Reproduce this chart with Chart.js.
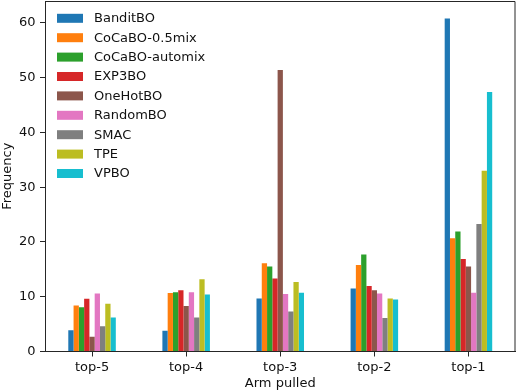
<!DOCTYPE html>
<html>
<head>
<meta charset="utf-8">
<script src="https://cdn.jsdelivr.net/npm/chart.js@4.4.0/dist/chart.umd.min.js"></script>
<style>
  body { margin: 0; background: #fff; }
</style>
</head>
<body>
<canvas id="chart" width="518" height="392"></canvas>
<script>
var arms = ["top-5", "top-4", "top-3", "top-2", "top-1"];
var yTicks = [0, 10, 20, 30, 40, 50, 60];

var banditBO   = [3.9, 3.8, 9.7, 11.5, 60.8];
var cocaboMix  = [8.4, 10.7, 16.1, 15.8, 20.7];
var cocaboAuto = [8.1, 10.8, 15.5, 17.7, 21.9];
var exp3BO     = [9.65, 11.2, 13.35, 11.95, 16.9];
var oneHotBO   = [2.7, 8.3, 51.4, 11.2, 15.5];
var randomBO   = [10.6, 10.8, 10.5, 10.6, 10.75];
var smac       = [4.6, 6.2, 7.3, 6.1, 23.3];
var tpe        = [8.7, 13.2, 12.7, 9.7, 33.0];
var vpbo       = [6.2, 10.4, 10.75, 9.5, 47.4];

var FONT = "'DejaVu Sans', sans-serif";
var AXIS = '#262626';

// matplotlib style legend inside the axes, top left
var innerLegend = {
    id: 'innerLegend',
    afterDraw: function (chart) {
        var c = chart.ctx;
        c.save();
        c.font = '13px ' + FONT;
        c.textBaseline = 'middle';
        c.textAlign = 'left';
        chart.data.datasets.forEach(function (ds, i) {
            var y = 18.3 + i * 19.4;
            c.fillStyle = ds.backgroundColor;
            c.fillRect(57, y - 4.5, 26, 9);
            c.fillStyle = '#111';
            c.fillText(ds.label, 94, y + 0.5);
        });
        c.restore();
    }
};

// top and right spines
var frame = {
    id: 'frame',
    afterDraw: function (chart) {
        var a = chart.chartArea, c = chart.ctx;
        c.save();
        c.strokeStyle = AXIS;
        c.lineWidth = 1;
        c.beginPath();
        c.moveTo(a.left, a.top + 0.5);
        c.lineTo(a.right - 0.5, a.top + 0.5);
        c.lineTo(a.right - 0.5, a.bottom);
        c.stroke();
        c.restore();
    }
};

function noPad(s) {
    s.paddingTop = 0; s.paddingBottom = 0;
    s.paddingLeft = 0; s.paddingRight = 0;
}

var ctx = document.getElementById("chart");

var chartGraph = new Chart(ctx, {
    type: 'bar',
    data: {
        labels: arms,
        datasets: [
            { label: "BanditBO", data: banditBO, backgroundColor: '#1f77b4' },
            { label: "CoCaBO-0.5mix", data: cocaboMix, backgroundColor: '#ff7f0e' },
            { label: "CoCaBO-automix", data: cocaboAuto, backgroundColor: '#2ca02c' },
            { label: "EXP3BO", data: exp3BO, backgroundColor: '#d62728' },
            { label: "OneHotBO", data: oneHotBO, backgroundColor: '#8c564b' },
            { label: "RandomBO", data: randomBO, backgroundColor: '#e377c2' },
            { label: "SMAC", data: smac, backgroundColor: '#7f7f7f' },
            { label: "TPE", data: tpe, backgroundColor: '#bcbd22' },
            { label: "VPBO", data: vpbo, backgroundColor: '#17becf' }
        ]
    },
    options: {
        responsive: false,
        animation: false,
        layout: { padding: { left: 0, top: 1, right: 2.5, bottom: 0 } },
        datasets: {
            bar: { categoryPercentage: 0.505, barPercentage: 1.0, borderWidth: 0 }
        },
        plugins: {
            legend: { display: false },
            tooltip: { enabled: false }
        },
        scales: {
            x: {
                grid: { display: true, offset: false, drawOnChartArea: false, tickLength: 5, color: AXIS },
                border: { display: true, color: AXIS, width: 1 },
                ticks: { color: '#111', padding: 3, font: { family: FONT, size: 13 } },
                title: { display: true, text: "Arm pulled", color: '#111', padding: { top: 0, bottom: 0.5 }, font: { family: FONT, size: 13 } },
                afterFit: function (s) { s.height = 40.5; noPad(s); }
            },
            y: {
                min: 0,
                max: 64,
                grid: { display: true, drawOnChartArea: false, tickLength: 5, color: AXIS },
                border: { display: true, color: AXIS, width: 1 },
                ticks: { color: '#111', padding: 4.5, includeBounds: false, font: { family: FONT, size: 13 } },
                afterBuildTicks: function (s) {
                    s.ticks = yTicks.map(function (v) { return { value: v }; });
                },
                title: { display: true, text: "Frequency", color: '#111', padding: { top: 0, bottom: 0 }, font: { family: FONT, size: 13 } },
                afterFit: function (s) { s.width = 45; noPad(s); }
            }
        }
    },
    plugins: [innerLegend, frame]
});
</script>
</body>
</html>
